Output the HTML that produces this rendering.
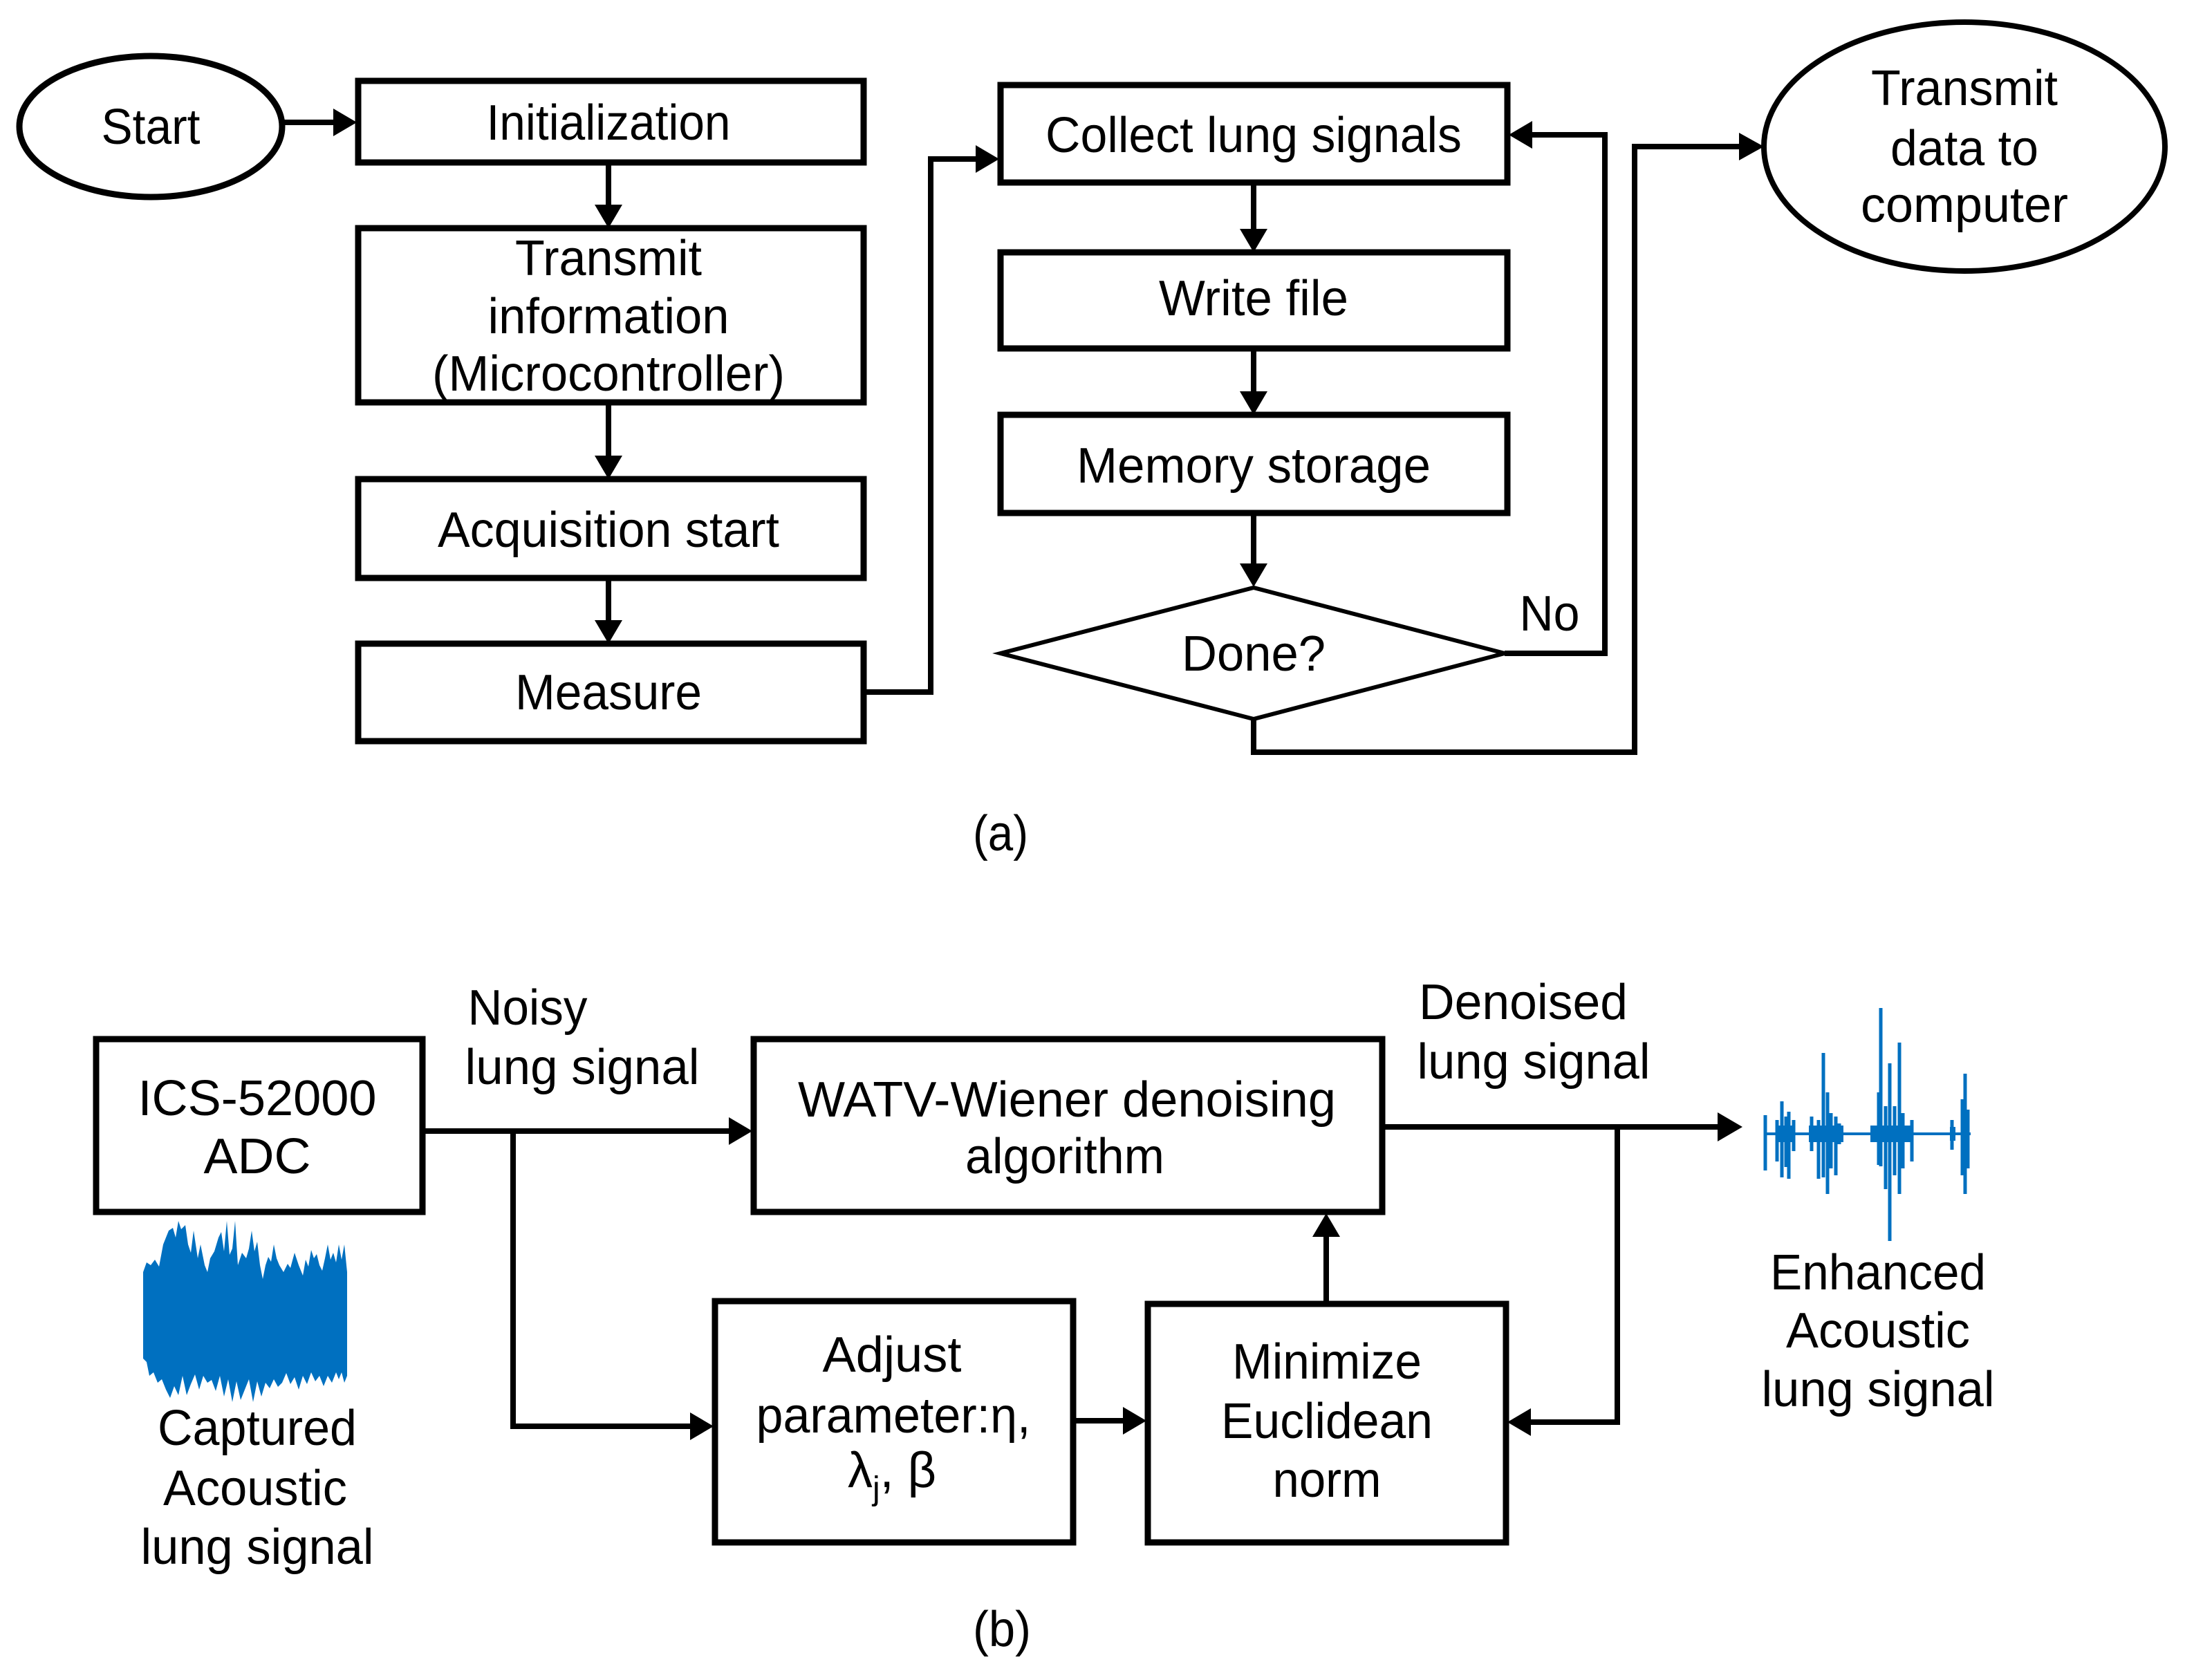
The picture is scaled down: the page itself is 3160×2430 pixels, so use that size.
<!DOCTYPE html>
<html><head><meta charset="utf-8"><style>
html,body{margin:0;padding:0;background:#fff;}
svg{display:block;}
text{font-family:"Liberation Sans",Arial,sans-serif;font-size:72px;fill:#000;text-anchor:middle;}
</style></head><body>
<svg width="3160" height="2430" viewBox="0 0 3160 2430" xmlns="http://www.w3.org/2000/svg">
<g fill="none" stroke="#000" stroke-width="9">
<ellipse cx="218" cy="183" rx="190" ry="102"/>
<rect x="518" y="117" width="731" height="118"/>
<rect x="518" y="330" width="731" height="252"/>
<rect x="518" y="693" width="731" height="143"/>
<rect x="518" y="931" width="731" height="141"/>
<rect x="1447" y="123" width="733" height="141"/>
<rect x="1447" y="365" width="733" height="139"/>
<rect x="1447" y="600" width="733" height="142"/>
<polygon points="1447,945 1813,850 2176,945 1813,1040" stroke-width="6"/>
<ellipse cx="2841" cy="212" rx="290" ry="180" stroke-width="8"/>
<rect x="139" y="1503" width="472" height="250"/>
<rect x="1090" y="1503" width="909" height="250"/>
<rect x="1034" y="1882" width="518" height="349"/>
<rect x="1660" y="1886" width="518" height="345"/>
</g>
<g fill="none" stroke="#000" stroke-width="8">
<line x1="408" y1="177" x2="490" y2="177"/>
<line x1="880" y1="235" x2="880" y2="305"/>
<line x1="880" y1="582" x2="880" y2="668"/>
<line x1="880" y1="836" x2="880" y2="906"/>
<polyline points="1249,1001 1346,1001 1346,230 1420,230"/>
<line x1="1813" y1="264" x2="1813" y2="340"/>
<line x1="1813" y1="504" x2="1813" y2="575"/>
<line x1="1813" y1="742" x2="1813" y2="825"/>
<polyline points="2176,945 2321,945 2321,195 2210,195"/>
<polyline points="1813,1040 1813,1088 2364,1088 2364,212 2520,212"/>
<line x1="611" y1="1636" x2="1062" y2="1636"/>
<polyline points="742,1636 742,2063 1006,2063"/>
<line x1="1552" y1="2055" x2="1632" y2="2055"/>
<line x1="1918" y1="1886" x2="1918" y2="1780"/>
<line x1="1999" y1="1630" x2="2490" y2="1630"/>
<polyline points="2339,1630 2339,2057 2206,2057"/>
</g>
<g fill="#000">
<polygon points="516,177 482,157 482,197"/>
<polygon points="880,330 860,296 900,296"/>
<polygon points="880,693 860,659 900,659"/>
<polygon points="880,931 860,897 900,897"/>
<polygon points="1445,230 1411,210 1411,250"/>
<polygon points="1813,365 1793,331 1833,331"/>
<polygon points="1813,600 1793,566 1833,566"/>
<polygon points="1813,849 1793,815 1833,815"/>
<polygon points="2182,195 2216,175 2216,215"/>
<polygon points="2551,212 2515,192 2515,232"/>
<polygon points="1088,1636 1054,1616 1054,1656"/>
<polygon points="1032,2063 998,2043 998,2083"/>
<polygon points="1658,2055 1624,2035 1624,2075"/>
<polygon points="1918,1755 1898,1789 1938,1789"/>
<polygon points="2520,1630 2484,1609 2484,1651"/>
<polygon points="2180,2057 2214,2037 2214,2077"/>
</g>
<g>
<text x="218" y="208" textLength="143" lengthAdjust="spacingAndGlyphs">Start</text>
<text x="880" y="202" textLength="353" lengthAdjust="spacingAndGlyphs">Initialization</text>
<text x="880" y="398" textLength="270" lengthAdjust="spacingAndGlyphs">Transmit</text>
<text x="880" y="482" textLength="349" lengthAdjust="spacingAndGlyphs">information</text>
<text x="880" y="565" textLength="510" lengthAdjust="spacingAndGlyphs">(Microcontroller)</text>
<text x="880" y="791" textLength="494" lengthAdjust="spacingAndGlyphs">Acquisition start</text>
<text x="880" y="1026" textLength="270" lengthAdjust="spacingAndGlyphs">Measure</text>
<text x="1813" y="220" textLength="602" lengthAdjust="spacingAndGlyphs">Collect lung signals</text>
<text x="1813" y="456" textLength="274" lengthAdjust="spacingAndGlyphs">Write file</text>
<text x="1813" y="698" textLength="512" lengthAdjust="spacingAndGlyphs">Memory storage</text>
<text x="1813" y="970" textLength="208" lengthAdjust="spacingAndGlyphs">Done?</text>
<text x="2241" y="912" textLength="87" lengthAdjust="spacingAndGlyphs">No</text>
<text x="2841" y="152" textLength="270" lengthAdjust="spacingAndGlyphs">Transmit</text>
<text x="2841" y="239" textLength="214" lengthAdjust="spacingAndGlyphs">data to</text>
<text x="2841" y="321" textLength="300" lengthAdjust="spacingAndGlyphs">computer</text>
<text x="1447" y="1230" textLength="80" lengthAdjust="spacingAndGlyphs">(a)</text>
<text x="763" y="1482" textLength="173" lengthAdjust="spacingAndGlyphs">Noisy</text>
<text x="842" y="1568" textLength="339" lengthAdjust="spacingAndGlyphs">lung signal</text>
<text x="372" y="1613" textLength="345" lengthAdjust="spacingAndGlyphs">ICS-52000</text>
<text x="372" y="1697" textLength="155" lengthAdjust="spacingAndGlyphs">ADC</text>
<text x="1543" y="1615" textLength="778" lengthAdjust="spacingAndGlyphs">WATV-Wiener denoising</text>
<text x="1540" y="1697" textLength="288" lengthAdjust="spacingAndGlyphs">algorithm</text>
<text x="2203" y="1474" textLength="302" lengthAdjust="spacingAndGlyphs">Denoised</text>
<text x="2218" y="1560" textLength="337" lengthAdjust="spacingAndGlyphs">lung signal</text>
<text x="1290" y="1984" textLength="201" lengthAdjust="spacingAndGlyphs">Adjust</text>
<text x="1292" y="2072" textLength="397" lengthAdjust="spacingAndGlyphs">parameter:η,</text>
<text x="1290" y="2151">λ<tspan font-size="48" dy="18">j</tspan><tspan dy="-18">, β</tspan></text>
<text x="1919" y="1994" textLength="274" lengthAdjust="spacingAndGlyphs">Minimize</text>
<text x="1919" y="2080" textLength="306" lengthAdjust="spacingAndGlyphs">Euclidean</text>
<text x="1919" y="2165" textLength="157" lengthAdjust="spacingAndGlyphs">norm</text>
<text x="2716" y="1865" textLength="312" lengthAdjust="spacingAndGlyphs">Enhanced</text>
<text x="2716" y="1949" textLength="266" lengthAdjust="spacingAndGlyphs">Acoustic</text>
<text x="2716" y="2034" textLength="337" lengthAdjust="spacingAndGlyphs">lung signal</text>
<text x="372" y="2090" textLength="288" lengthAdjust="spacingAndGlyphs">Captured</text>
<text x="369" y="2177" textLength="266" lengthAdjust="spacingAndGlyphs">Acoustic</text>
<text x="372" y="2262" textLength="337" lengthAdjust="spacingAndGlyphs">lung signal</text>
<text x="1449" y="2381" textLength="84" lengthAdjust="spacingAndGlyphs">(b)</text>
</g>
<polygon fill="#0070c0" points="207,1840 212,1826 218,1830 224,1822 230,1832 236,1800 240,1790 244,1780 250,1776 254,1790 258,1766 262,1778 268,1772 272,1800 276,1812 280,1780 286,1820 290,1800 296,1830 300,1840 304,1820 310,1810 316,1790 320,1782 324,1810 328,1766 332,1815 336,1806 340,1766 344,1830 350,1812 356,1820 360,1806 364,1780 368,1810 372,1796 376,1830 380,1850 384,1830 388,1818 392,1825 396,1800 400,1820 404,1830 410,1840 416,1828 420,1834 426,1812 432,1830 438,1845 442,1822 446,1832 450,1808 454,1820 458,1814 462,1830 466,1838 470,1820 474,1800 478,1822 482,1812 486,1826 490,1800 494,1822 498,1800 502,1840 502,1990 498,2000 494,1985 490,1995 486,1985 480,2000 474,1990 468,2005 462,1990 456,1998 450,1985 444,2002 438,1990 432,2010 426,1992 420,2002 414,1986 408,2000 402,2006 396,1995 390,2008 384,2000 378,2020 372,1998 366,2028 360,1995 354,2010 348,2025 342,1998 336,2028 330,1995 324,2020 318,1990 312,2012 306,1996 300,2000 294,1990 288,2010 282,1988 276,2002 270,2018 264,1990 258,2018 252,2005 246,2022 240,2010 234,1995 228,2000 222,1985 216,1990 212,1970 207,1965"/>
<g stroke="#0070c0" fill="none">
<line x1="2552" y1="1640" x2="2850" y2="1640" stroke-width="4"/>
<g stroke-width="5">
<line x1="2553" y1="1613" x2="2553" y2="1693"/>
<line x1="2570" y1="1620" x2="2570" y2="1680"/>
<line x1="2577" y1="1593" x2="2577" y2="1703"/>
<line x1="2587" y1="1608" x2="2587" y2="1705"/>
<line x1="2583" y1="1615" x2="2583" y2="1688"/>
<line x1="2594" y1="1620" x2="2594" y2="1665"/>
<line x1="2620" y1="1615" x2="2620" y2="1665"/>
<line x1="2630" y1="1620" x2="2630" y2="1705"/>
<line x1="2637" y1="1523" x2="2637" y2="1703"/>
<line x1="2643" y1="1580" x2="2643" y2="1727"/>
<line x1="2648" y1="1610" x2="2648" y2="1690"/>
<line x1="2655" y1="1615" x2="2655" y2="1700"/>
<line x1="2660" y1="1625" x2="2660" y2="1655"/>
<line x1="2717" y1="1580" x2="2717" y2="1685"/>
<line x1="2720" y1="1458" x2="2720" y2="1687"/>
<line x1="2727" y1="1600" x2="2727" y2="1720"/>
<line x1="2733" y1="1538" x2="2733" y2="1795"/>
<line x1="2740" y1="1600" x2="2740" y2="1700"/>
<line x1="2747" y1="1508" x2="2747" y2="1727"/>
<line x1="2752" y1="1610" x2="2752" y2="1690"/>
<line x1="2765" y1="1620" x2="2765" y2="1680"/>
<line x1="2823" y1="1620" x2="2823" y2="1663"/>
<line x1="2838" y1="1590" x2="2838" y2="1700"/>
<line x1="2842" y1="1553" x2="2842" y2="1727"/>
<line x1="2846" y1="1605" x2="2846" y2="1690"/>
</g>
</g>
<g fill="#0070c0">
<rect x="2568" y="1628" width="28" height="24"/>
<rect x="2616" y="1628" width="50" height="24"/>
<rect x="2705" y="1628" width="62" height="24"/>
<rect x="2820" y="1630" width="8" height="20"/>
<rect x="2836" y="1615" width="12" height="50"/>
</g>
</svg>
</body></html>
